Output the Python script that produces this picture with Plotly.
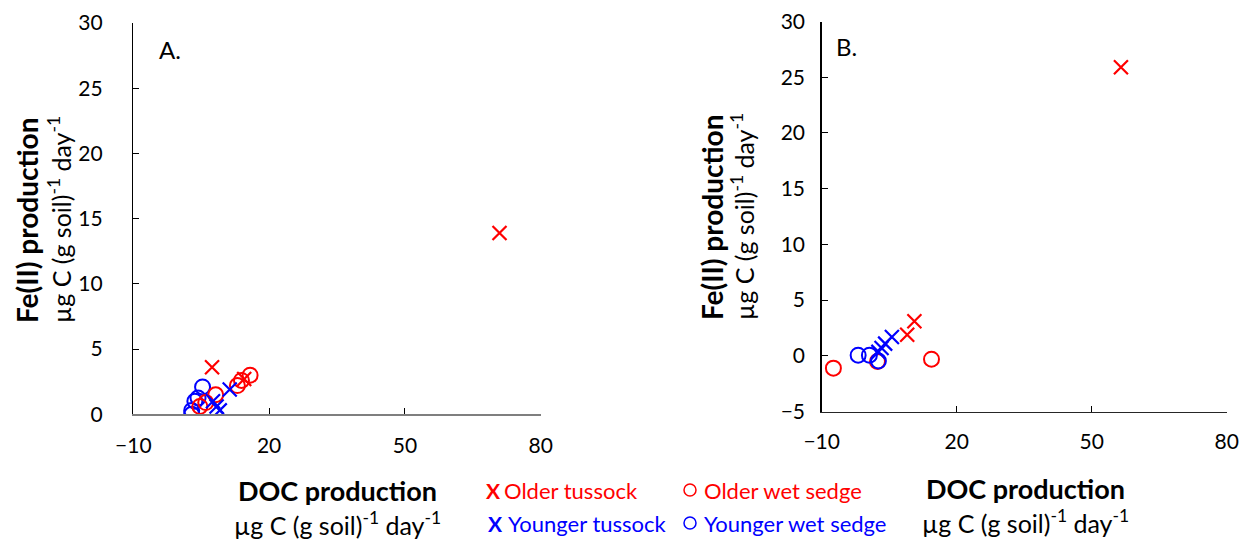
import plotly.graph_objects as go

W, H = 1244, 539

# ---------------- Data ----------------
# Panel A
a_old_tus_x = [7.4, 14.5, 70.9]
a_old_tus_y = [3.6, 2.7, 13.9]
a_old_wet_x = [13.9, 15.8, 13.0, 8.2, 4.7, 6.0]
a_old_wet_y = [2.6, 3.0, 2.2, 1.5, 0.6, 0.9]
a_yng_tus_x = [11.3, 9.1, 7.6, 8.4]
a_yng_tus_y = [1.9, 0.3, 1.0, 0.6]
a_yng_wet_x = [5.3, 3.6, 2.9, 2.9, 4.3]
a_yng_wet_y = [2.1, 1.0, 0.3, 0.0, 1.25]

# Panel B
b_old_tus_x = [56.5, 10.6, 9.0]
b_old_tus_y = [25.9, 3.1, 1.9]
b_old_wet_x = [-7.4, 14.4, 2.4]
b_old_wet_y = [-1.1, -0.3, -0.5]
b_yng_tus_x = [5.6, 4.1, 2.6, 3.3]
b_yng_tus_y = [1.7, 1.1, 0.36, 0.7]
b_yng_wet_x = [-1.9, 0.6, 2.6]
b_yng_wet_y = [0.06, 0.06, -0.45]

x_ticks = [-10, 20, 50, 80]
a_y_ticks = [0, 5, 10, 15, 20, 25, 30]
b_y_ticks = [-5, 0, 5, 10, 15, 20, 25, 30]

RED = "#FF0000"
BLUE = "#0000FF"
FONT = "Lato"

fig = go.Figure()


def add_series(x, y, color, sym, xa, ya):
    if sym == "x":
        marker = dict(symbol="x-thin-open", size=14, color=color,
                      line=dict(color=color, width=2.2))
    else:
        marker = dict(symbol="circle-open", size=15, color=color,
                      line=dict(color=color, width=2))
    fig.add_trace(go.Scatter(x=x, y=y, mode="markers", marker=marker,
                             xaxis=xa, yaxis=ya, showlegend=False,
                             hoverinfo="skip"))


add_series(a_yng_wet_x, a_yng_wet_y, BLUE, "o", "x", "y")
add_series(a_old_wet_x, a_old_wet_y, RED, "o", "x", "y")
add_series(a_yng_tus_x, a_yng_tus_y, BLUE, "x", "x", "y")
add_series(a_old_tus_x, a_old_tus_y, RED, "x", "x", "y")

add_series(b_old_wet_x, b_old_wet_y, RED, "o", "x2", "y2")
add_series(b_yng_wet_x, b_yng_wet_y, BLUE, "o", "x2", "y2")
add_series(b_old_tus_x, b_old_tus_y, RED, "x", "x2", "y2")
add_series(b_yng_tus_x, b_yng_tus_y, BLUE, "x", "x2", "y2")

tickfont = dict(family=FONT, size=21, color="#000000")


def px_x(p):
    return p / W


def px_y(p):
    return (H - p) / H


common = dict(ticks="inside", ticklen=6, tickwidth=1, tickcolor="#000000",
              showline=True, showgrid=False, zeroline=False,
              tickfont=tickfont, automargin=False, fixedrange=True)

fig.update_layout(
    width=W, height=H,
    margin=dict(l=0, r=0, t=0, b=0, autoexpand=False),
    paper_bgcolor="white", plot_bgcolor="white",
    xaxis=dict(domain=[px_x(133.3), px_x(540.7)], range=[-10, 80],
               tickvals=x_ticks, linecolor="#7f7f7f", linewidth=2,
               ticklabelstandoff=11, anchor="y", **common),
    yaxis=dict(domain=[px_y(414.3), px_y(23)], range=[0, 30],
               tickvals=a_y_ticks, linecolor="#000000", linewidth=1.5,
               ticklabelstandoff=25, anchor="x", **common),
    xaxis2=dict(domain=[px_x(821.7), px_x(1226.7)], range=[-10, 80],
                tickvals=x_ticks, linecolor="#262626", linewidth=1.3,
                ticklabelstandoff=11, anchor="y2", **common),
    yaxis2=dict(domain=[px_y(411.6), px_y(21.5)], range=[-5, 30],
                tickvals=b_y_ticks, linecolor="#000000", linewidth=1.5,
                ticklabelstandoff=11, anchor="x2", **common),
)

ann = []


def text(s, xp, yp, size, color="#000000", bold=False, angle=0, xanchor="center"):
    if bold:
        s = "<b>" + s + "</b>"
    ann.append(dict(text=s, x=px_x(xp), y=px_y(yp), xref="paper", yref="paper",
                    showarrow=False, textangle=angle, xanchor=xanchor,
                    yanchor="middle",
                    font=dict(family=FONT, size=size, color=color)))


unit = "µg C (g soil)<sup>-1</sup> day<sup>-1</sup>"

# Panel labels
text("A.", 170, 50, 24)
text("B.", 846, 46, 24)

# Y titles
text("Fe(II) production", 27, 221, 28, bold=True, angle=-90)
text(unit, 59, 220, 25, angle=-90)
text("Fe(II) production", 712, 218, 28, bold=True, angle=-90)
text(unit, 742, 217, 25, angle=-90)

# X titles
text("DOC production", 337, 490, 27, bold=True)
text(unit, 337, 523, 25)
text("DOC production", 1025, 488, 27, bold=True)
text(unit, 1025, 521, 25)

# Legend
text("X", 484, 490, 21, color=RED, bold=True, xanchor="left")
text("Older tussock", 502, 490, 22, color=RED, xanchor="left")
text("X", 486, 523, 21, color=BLUE, bold=True, xanchor="left")
text("Younger tussock", 506, 523, 22, color=BLUE, xanchor="left")
text("Older wet sedge", 702, 490, 22, color=RED, xanchor="left")
text("Younger wet sedge", 702, 523, 22, color=BLUE, xanchor="left")

fig.update_layout(annotations=ann)

shapes = []
for cy, col in [(490, RED), (523, BLUE)]:
    shapes.append(dict(type="circle", xref="paper", yref="paper",
                       xsizemode="pixel", ysizemode="pixel",
                       xanchor=px_x(690), yanchor=px_y(cy),
                       x0=-6, x1=6, y0=-6, y1=6,
                       line=dict(color=col, width=1.5)))
fig.update_layout(shapes=shapes)

fig.write_html("out.html",
               config=dict(displayModeBar=False, staticPlot=True),
               post_script="document.body.style.margin='0px';"
                           "document.body.style.overflow='hidden';")
